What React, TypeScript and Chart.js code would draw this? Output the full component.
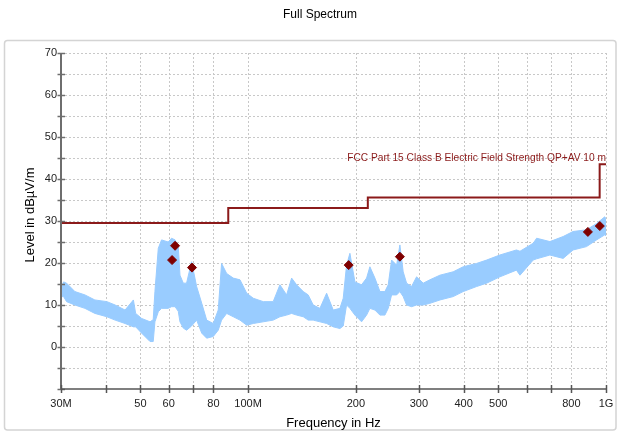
import React, { useEffect, useRef } from 'react';
import { Chart, registerables } from 'chart.js';

Chart.register(...registerables);

const chartTitle = 'Full Spectrum';
const xAxisTitle = 'Frequency in Hz';
const yAxisTitle = 'Level in dBµV/m';
const limitLabel = 'FCC Part 15 Class B Electric Field Strength QP+AV 10 m';

const xTickValues = [30, 40, 50, 60, 70, 80, 100, 200, 300, 400, 500, 600, 700, 800, 1000];
const xTickLabels = ['30M', '', '50', '60', '', '80', '100M', '200', '300', '400', '500', '', '', '800', '1G'];
const yTickValues = [-10, 0, 10, 20, 30, 40, 50, 60, 70];
const yTickLabels = ['', '0', '10', '20', '30', '40', '50', '60', '70'];
const yMinorTicks = [-5, 5, 15, 25, 35, 45, 55, 65];

// Spectrum envelope (MHz, dBµV/m)
const spectrumFreq = [
  30.0, 30.5, 31.1, 32.8, 35.0, 37.3, 40.3, 42.5, 45.3, 47.8, 48.5, 50.4, 53.2, 54.3, 54.9, 56.1,
  57.3, 59.8, 61.1, 62.5, 63.8, 64.5, 65.9, 67.3, 69.5, 71.8, 74.2, 76.6, 79.9, 82.5, 84.3, 87.1,
  90.9, 94.9, 99.1, 103.4, 110.2, 117.5, 122.7, 128.1, 132.3, 136.6, 142.6, 147.2, 152.0, 158.7,
  165.7, 172.9, 180.5, 184.4, 188.4, 192.5, 198.8, 207.5, 214.3, 218.9, 226.1, 233.5, 241.1, 246.3,
  251.7, 260.0, 265.5, 271.2, 277.2, 286.2, 295.6, 308.5, 322.0, 343.6, 374.0, 399.0, 435.0, 464.0,
  505.0, 562.0, 575.0, 626.0, 640.0, 697.0, 759.0, 809.0, 882.0, 941.0, 992.0, 1000.0,
];
const spectrumUpper = [
  14.0, 15.5, 15.2, 13.2, 12.4, 11.2, 10.8, 10.0, 8.8, 11.2, 8.0, 6.8, 6.0, 6.5, 13.2, 23.5,
  25.5, 25.0, 25.9, 25.5, 24.0, 17.1, 15.2, 15.2, 20.3, 14.4, 10.4, 6.4, 5.6, 8.8, 19.9, 17.5,
  16.4, 16.0, 12.8, 11.6, 10.8, 10.8, 14.8, 12.4, 16.4, 14.8, 13.2, 12.4, 10.0, 9.2,
  12.8, 8.8, 9.2, 11.6, 19.5, 22.3, 15.5, 14.8, 16.4, 19.1, 16.4, 13.2, 13.2, 14.8,
  20.7, 19.5, 24.3, 17.9, 15.2, 14.4, 16.7, 15.2, 16.0, 17.1, 17.9, 19.1, 19.9, 20.7,
  21.9, 23.1, 22.8, 24.7, 25.9, 25.1, 26.3, 27.5, 27.9, 29.4, 31.0, 30.5,
];
const spectrumLower = [
  12.0, 12.0, 10.8, 10.0, 9.2, 8.0, 7.2, 6.4, 5.6, 4.8, 4.8, 3.3, 1.3, 1.3, 6.0, 8.4,
  9.2, 9.2, 9.6, 9.6, 8.5, 6.0, 4.5, 4.0, 5.0, 6.4, 3.3, 2.1, 2.5, 4.0, 6.4, 8.0,
  7.2, 6.4, 5.2, 5.6, 6.0, 6.4, 7.2, 7.6, 8.0, 7.6, 7.2, 6.4, 6.4, 6.0,
  5.6, 4.8, 4.4, 5.0, 10.0, 9.2, 7.6, 6.0, 7.6, 9.2, 8.8, 7.6, 7.6, 9.2,
  12.4, 12.4, 13.2, 12.0, 10.0, 9.6, 10.0, 10.0, 10.4, 11.2, 12.0, 13.2, 14.4, 15.2,
  16.7, 18.3, 17.1, 20.7, 21.0, 21.9, 21.1, 23.1, 23.9, 25.5, 26.7, 26.5,
];

const limitFreq = [30, 88, 216, 960, 1000];
const limitLevel = [29.5, 33.1, 35.6, 43.5, 43.5];

const markerFreq = [61.3, 62.5, 69.7, 191, 265.5, 890, 961];
const markerLevel = [20.7, 24.1, 18.9, 19.5, 21.5, 27.4, 28.8];

const FONT = "'Liberation Sans', Arial, Helvetica, sans-serif";
const SPECTRUM_COLOR = '#99ccff';
const LIMIT_COLOR = '#8b1a1a';
const MARKER_COLOR = '#7f0000';

const decorPlugin = {
  id: 'decor',
  beforeDraw(chart: any) {
    const ctx = chart.ctx;
    ctx.save();
    ctx.fillStyle = '#ffffff';
    ctx.fillRect(0, 0, chart.width, chart.height);
    // outer frame
    ctx.strokeStyle = '#d4d4d4';
    ctx.lineWidth = 1.5;
    const x0 = 4.5, y0 = 40.5, x1 = 616, y1 = 430;
    const r = 3;
    ctx.beginPath();
    ctx.moveTo(x0 + r, y0);
    ctx.lineTo(x1 - r, y0);
    ctx.quadraticCurveTo(x1, y0, x1, y0 + r);
    ctx.lineTo(x1, y1 - r);
    ctx.quadraticCurveTo(x1, y1, x1 - r, y1);
    ctx.lineTo(x0 + r, y1);
    ctx.quadraticCurveTo(x0, y1, x0, y1 - r);
    ctx.lineTo(x0, y0 + r);
    ctx.quadraticCurveTo(x0, y0, x0 + r, y0);
    ctx.stroke();
    // title
    ctx.fillStyle = '#000';
    ctx.font = `12px ${FONT}`;
    ctx.textAlign = 'center';
    ctx.textBaseline = 'middle';
    ctx.fillText(chartTitle, 320, 15);
    // y axis title
    ctx.save();
    ctx.translate(30, 215);
    ctx.rotate(-Math.PI / 2);
    ctx.font = `13px ${FONT}`;
    ctx.fillText(yAxisTitle, 0, 0);
    ctx.restore();
    ctx.restore();
  },
  beforeDatasetsDraw(chart: any) {
    const { ctx, chartArea, scales } = chart;
    const xs = scales.x, ys = scales.y;
    ctx.save();
    ctx.strokeStyle = '#c8c8c8';
    ctx.lineWidth = 1;
    ctx.setLineDash([2, 2]);
    const yAll = [...yTickValues, ...yMinorTicks].filter((v) => v > -10);
    yAll.forEach((v) => {
      const p = Math.round(ys.getPixelForValue(v)) + 0.5;
      ctx.beginPath();
      ctx.moveTo(chartArea.left, p);
      ctx.lineTo(chartArea.right, p);
      ctx.stroke();
    });
    xTickValues.forEach((v) => {
      if (v === xTickValues[0]) return;
      const p = Math.round(xs.getPixelForValue(v)) + 0.5;
      ctx.beginPath();
      ctx.moveTo(p, chartArea.top);
      ctx.lineTo(p, chartArea.bottom);
      ctx.stroke();
    });
    ctx.restore();
  },
  afterDatasetsDraw(chart: any) {
    const { ctx, chartArea, scales } = chart;
    const xs = scales.x, ys = scales.y;
    ctx.save();
    // y axis
    ctx.strokeStyle = '#6e6e6e';
    ctx.lineWidth = 2;
    ctx.beginPath();
    ctx.moveTo(chartArea.left, chartArea.top);
    ctx.lineTo(chartArea.left, chartArea.bottom);
    ctx.stroke();
    ctx.lineWidth = 1.5;
    [...yTickValues, ...yMinorTicks].forEach((v) => {
      const p = Math.round(ys.getPixelForValue(v)) + 0.5;
      ctx.beginPath();
      ctx.moveTo(chartArea.left - 3.5, p);
      ctx.lineTo(chartArea.left + 4, p);
      ctx.stroke();
    });
    // x axis
    ctx.strokeStyle = '#555';
    ctx.lineWidth = 1.5;
    ctx.beginPath();
    ctx.moveTo(chartArea.left, chartArea.bottom);
    ctx.lineTo(chartArea.right, chartArea.bottom);
    ctx.stroke();
    xTickValues.forEach((v) => {
      const p = Math.round(xs.getPixelForValue(v)) + 0.5;
      ctx.beginPath();
      ctx.moveTo(p, chartArea.bottom - 4);
      ctx.lineTo(p, chartArea.bottom + 4);
      ctx.stroke();
    });
    // limit label
    ctx.fillStyle = LIMIT_COLOR;
    ctx.font = `10.2px ${FONT}`;
    ctx.textAlign = 'right';
    ctx.textBaseline = 'alphabetic';
    ctx.fillText(limitLabel, chartArea.right, ys.getPixelForValue(43.5) - 3);
    ctx.restore();
  },
};

export default function App() {
  const canvasRef = useRef<HTMLCanvasElement | null>(null);

  useEffect(() => {
    if (!canvasRef.current) return;
    Chart.defaults.font.family = FONT;
    const chart = new Chart(canvasRef.current, {
      type: 'line',
      data: {
        datasets: [
          {
            label: 'Markers',
            data: markerFreq.map((f, i) => ({ x: f, y: markerLevel[i] })),
            showLine: false,
            pointStyle: 'rectRot',
            pointRadius: 4.5,
            pointBackgroundColor: MARKER_COLOR,
            pointBorderColor: MARKER_COLOR,
            pointBorderWidth: 1,
          },
          {
            label: 'Limit',
            data: limitFreq.map((f, i) => ({ x: f, y: limitLevel[i] })),
            stepped: true,
            borderColor: LIMIT_COLOR,
            borderWidth: 2,
            pointRadius: 0,
            fill: false,
          },
          {
            label: 'Spectrum max',
            data: spectrumFreq.map((f, i) => ({ x: f, y: spectrumUpper[i] })),
            borderColor: SPECTRUM_COLOR,
            backgroundColor: SPECTRUM_COLOR,
            borderWidth: 1,
            pointRadius: 0,
            fill: '+1',
            tension: 0,
          },
          {
            label: 'Spectrum min',
            data: spectrumFreq.map((f, i) => ({ x: f, y: spectrumLower[i] })),
            borderColor: SPECTRUM_COLOR,
            borderWidth: 1,
            pointRadius: 0,
            fill: false,
            tension: 0,
          },
        ],
      },
      options: {
        responsive: false,
        animation: false,
        devicePixelRatio: 1,
        layout: { padding: { left: 0, right: 13, top: 53, bottom: 0 } },
        plugins: {
          legend: { display: false },
          title: { display: false },
          tooltip: { enabled: false },
        },
        scales: {
          x: {
            type: 'logarithmic',
            min: 30,
            max: 1000,
            grid: { display: false, drawTicks: false },
            border: { display: false },
            afterBuildTicks: (s: any) => {
              s.ticks = xTickValues.map((v) => ({ value: v }));
            },
            afterFit: (s: any) => {
              s.height = 43;
              s.paddingLeft = 0;
              s.paddingRight = 0;
            },
            ticks: {
              autoSkip: false,
              maxRotation: 0,
              minRotation: 0,
              padding: 8,
              color: '#222',
              font: { size: 11, family: FONT },
              callback: (_v: any, i: number) => xTickLabels[i],
            },
            title: {
              display: true,
              text: xAxisTitle,
              color: '#000',
              font: { size: 13, family: FONT },
              padding: { top: 0, bottom: 1 },
            },
          },
          y: {
            type: 'linear',
            min: -10,
            max: 70,
            grid: { display: false, drawTicks: false },
            border: { display: false },
            afterBuildTicks: (s: any) => {
              s.ticks = yTickValues.map((v) => ({ value: v }));
            },
            afterFit: (s: any) => {
              s.width = 61;
              s.paddingTop = 0;
              s.paddingBottom = 0;
            },
            ticks: {
              padding: 4,
              color: '#222',
              font: { size: 11, family: FONT },
              callback: (_v: any, i: number) => yTickLabels[i],
            },
            title: { display: false },
          },
        },
      },
      plugins: [decorPlugin],
    } as any);
    return () => chart.destroy();
  }, []);

  return (
    <div style={{ position: 'absolute', left: 0, top: 0, width: 619, height: 432 }}>
      <canvas ref={canvasRef} width={619} height={432} />
    </div>
  );
}
